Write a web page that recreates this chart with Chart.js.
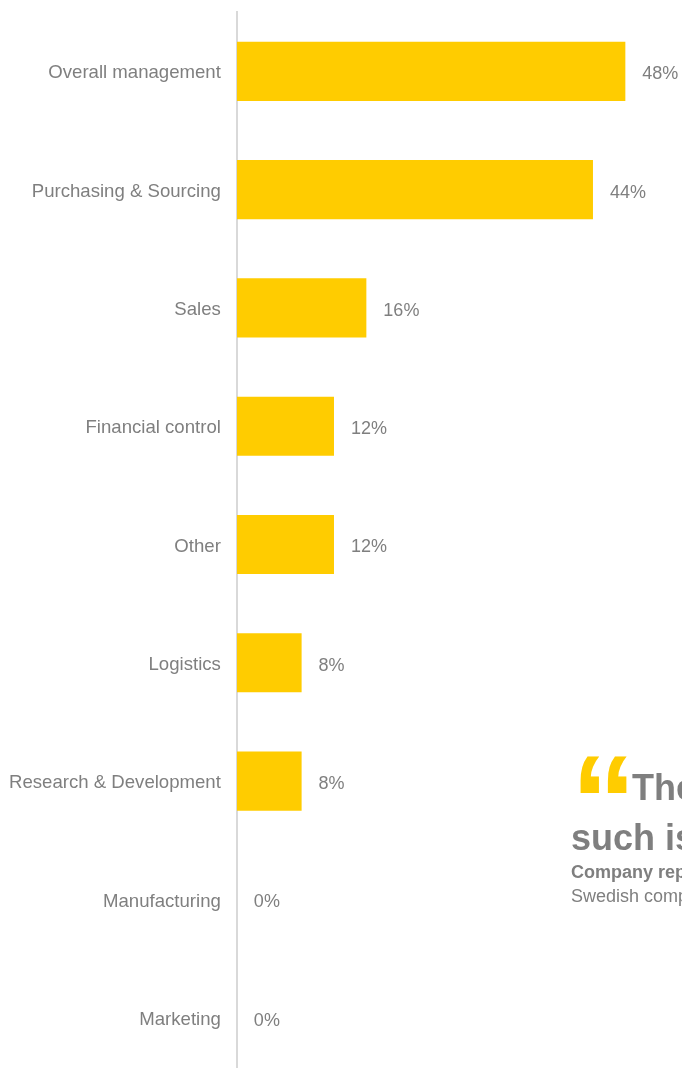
<!DOCTYPE html>
<html lang="en">
<head>
    <meta charset="UTF-8">
    <title>Functions</title>
    <script src="https://cdn.jsdelivr.net/npm/chart.js"></script>
    <style>
        html, body { margin: 0; padding: 0; background: #fff; overflow: hidden; }
        #functionsChart { position: absolute; left: -13px; top: -15px; }
    </style>
</head>
<body>
    <canvas id="functionsChart" width="695" height="1119"></canvas>

    <script>
        // Dados do gráfico
        const categories = ['Overall management', 'Purchasing & Sourcing', 'Sales', 'Financial control', 'Other', 'Logistics', 'Research & Development', 'Manufacturing', 'Marketing'];
        const shares = [48, 44, 16, 12, 12, 8, 8, 0, 0];

        // citação (cortada na borda direita)
        const quoteLines = ['The', 'such is'];
        const quoteSource = ['Company representative', 'Swedish company'];

        const grey = '#7f7f7f';
        const yellow = '#ffcc00';
        const fontFamily = '"Liberation Sans", Arial, sans-serif';

        // rótulos de valor ao lado das barras
        const valueLabels = {
            id: 'valueLabels',
            afterDatasetsDraw(chart) {
                const ctx = chart.ctx;
                const meta = chart.getDatasetMeta(0);
                ctx.save();
                ctx.font = '18px ' + fontFamily;
                ctx.fillStyle = grey;
                ctx.textAlign = 'left';
                ctx.textBaseline = 'middle';
                meta.data.forEach((bar, i) => {
                    ctx.fillText(shares[i] + '%', bar.x + 17, bar.y + 3);
                });
                ctx.restore();
            }
        };

        // bloco da citação (coordenadas da página)
        const quoteBlock = {
            id: 'quoteBlock',
            afterDraw(chart) {
                const ctx = chart.ctx;
                ctx.save();
                ctx.translate(13, 15);
                ctx.textAlign = 'left';
                ctx.textBaseline = 'alphabetic';

                // aspas amarelas
                ctx.font = 'bold 100px ' + fontFamily;
                let m = ctx.measureText('\u201C');
                const w = m.actualBoundingBoxLeft + m.actualBoundingBoxRight;
                const size = 100 * 47 / w;
                ctx.font = 'bold ' + size + 'px ' + fontFamily;
                m = ctx.measureText('\u201C');
                ctx.fillStyle = yellow;
                ctx.fillText('\u201C', 580 + m.actualBoundingBoxLeft, 756 + m.actualBoundingBoxAscent);

                ctx.fillStyle = grey;
                ctx.font = 'bold 36px ' + fontFamily;
                ctx.fillText(quoteLines[0], 632, 800);
                ctx.fillText(quoteLines[1], 571, 850);

                ctx.font = 'bold 18px ' + fontFamily;
                ctx.fillText(quoteSource[0], 571, 878);
                ctx.font = '18px ' + fontFamily;
                ctx.fillText(quoteSource[1], 571, 902);
                ctx.restore();
            }
        };

        const functionsChart = new Chart(document.getElementById('functionsChart'), {
            type: 'bar',
            data: {
                labels: categories,
                datasets: [{
                    data: shares,
                    backgroundColor: yellow,
                    categoryPercentage: 1,
                    barPercentage: 0.5
                }]
            },
            options: {
                indexAxis: 'y',
                responsive: false,
                animation: false,
                layout: { padding: { top: 0, bottom: 1, left: 6, right: 0 } },
                plugins: {
                    legend: { display: false },
                    tooltip: { enabled: false }
                },
                scales: {
                    x: {
                        min: 0,
                        max: 55,
                        display: false
                    },
                    y: {
                        grid: { display: false, drawTicks: false },
                        border: { display: true, color: '#d9d9d9', width: 2 },
                        ticks: {
                            color: grey,
                            padding: 16,
                            labelOffset: 2,
                            font: { family: fontFamily, size: 18.6 }
                        }
                    }
                }
            },
            plugins: [valueLabels, quoteBlock]
        });
    </script>
</body>
</html>
